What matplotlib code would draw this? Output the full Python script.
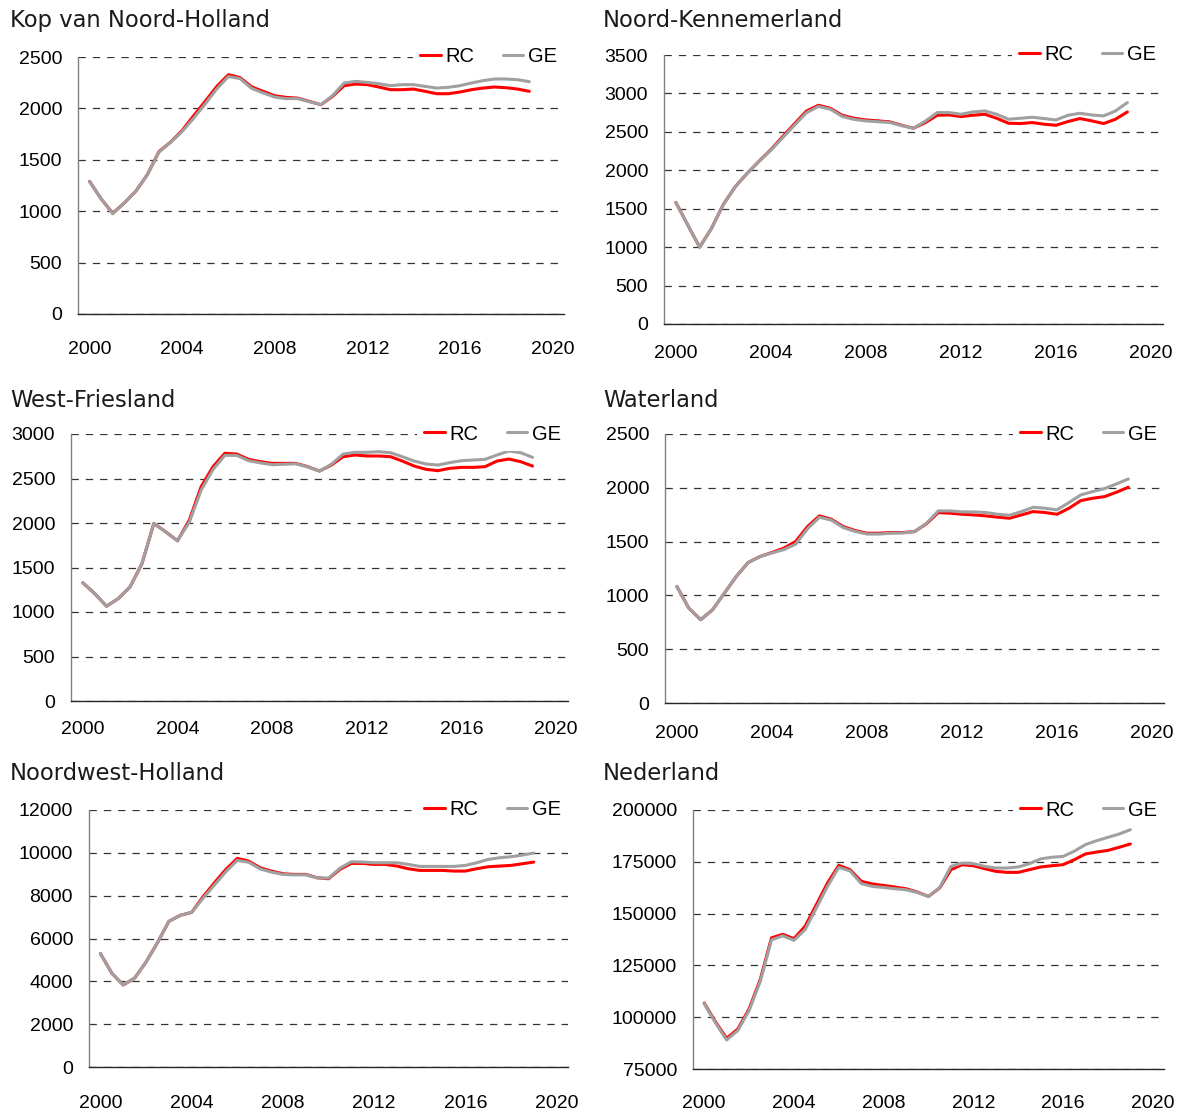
import numpy as np
import matplotlib
matplotlib.use("Agg")
import matplotlib.pyplot as plt


# =========================
# DATA (half-year steps, 2000 - 2019)
# =========================
YEARS = np.arange(2000, 2019.5, 0.5)

TITLES = [
    "Kop van Noord-Holland", "Noord-Kennemerland",
    "West-Friesland", "Waterland",
    "Noordwest-Holland", "Nederland",
]

RC_KOP = [1290, 1120, 980, 1080, 1195, 1357, 1580, 1672, 1785, 1930, 2070,
          2214, 2328, 2300, 2210, 2166, 2123, 2107, 2100, 2068, 2036,
          2117, 2221, 2237, 2231, 2208, 2182, 2182, 2188, 2166, 2143,
          2143, 2159, 2182, 2198, 2208, 2201, 2188, 2166]
GE_KOP = [1290, 1120, 975, 1080, 1195, 1357, 1575, 1670, 1775, 1905, 2045,
          2190, 2310, 2290, 2195, 2150, 2110, 2095, 2095, 2065, 2036,
          2125, 2247, 2263, 2253, 2240, 2221, 2231, 2231, 2214, 2198,
          2205, 2221, 2247, 2270, 2286, 2286, 2279, 2260]

RC_NK = [1581, 1288, 1000, 1245, 1557, 1787, 1960, 2118, 2270, 2440, 2608,
         2772, 2846, 2807, 2716, 2677, 2655, 2643, 2630, 2586, 2547,
         2621, 2716, 2720, 2699, 2716, 2729, 2677, 2612, 2608, 2621,
         2599, 2586, 2634, 2673, 2643, 2608, 2664, 2759]
GE_NK = [1581, 1288, 1000, 1245, 1557, 1787, 1960, 2115, 2262, 2425, 2590,
         2750, 2830, 2795, 2700, 2662, 2642, 2632, 2622, 2580, 2547,
         2640, 2751, 2751, 2729, 2759, 2772, 2729, 2664, 2677, 2690,
         2673, 2655, 2716, 2742, 2720, 2707, 2772, 2881]

RC_WF = [1328, 1208, 1065, 1151, 1283, 1545, 1995, 1901, 1800, 2033, 2408,
         2633, 2783, 2775, 2715, 2689, 2670, 2670, 2670, 2633, 2584,
         2651, 2745, 2764, 2753, 2753, 2745, 2696, 2640, 2603, 2588,
         2614, 2625, 2625, 2633, 2696, 2719, 2689, 2640]
GE_WF = [1328, 1208, 1065, 1151, 1283, 1545, 1995, 1901, 1800, 2010, 2370,
         2600, 2760, 2760, 2700, 2675, 2655, 2660, 2665, 2630, 2584,
         2660, 2775, 2794, 2794, 2801, 2790, 2745, 2696, 2663, 2651,
         2678, 2700, 2708, 2715, 2764, 2809, 2790, 2738]

RC_WL = [1083, 882, 774, 866, 1021, 1176, 1306, 1361, 1399, 1439, 1501,
         1640, 1739, 1708, 1640, 1603, 1578, 1578, 1584, 1584, 1593,
         1665, 1770, 1764, 1754, 1748, 1739, 1727, 1717, 1748, 1779,
         1770, 1754, 1810, 1881, 1903, 1918, 1959, 2005]
GE_WL = [1083, 882, 774, 866, 1021, 1176, 1306, 1361, 1395, 1425, 1476,
         1620, 1726, 1700, 1630, 1595, 1570, 1570, 1578, 1580, 1593,
         1670, 1785, 1785, 1776, 1776, 1770, 1754, 1745, 1779, 1819,
         1810, 1795, 1863, 1934, 1965, 1993, 2036, 2082]

RC_NWH = [5299, 4380, 3830, 4150, 4900, 5800, 6800, 7080, 7220, 7950, 8602,
          9226, 9740, 9615, 9304, 9148, 9023, 8992, 8992, 8836, 8789,
          9226, 9506, 9506, 9460, 9460, 9382, 9257, 9179, 9179, 9179,
          9148, 9148, 9257, 9350, 9382, 9413, 9491, 9569]
GE_NWH = [5299, 4380, 3830, 4150, 4900, 5800, 6800, 7080, 7220, 7880, 8500,
          9120, 9646, 9560, 9250, 9100, 8990, 8970, 8970, 8830, 8820,
          9280, 9584, 9569, 9537, 9537, 9537, 9460, 9366, 9366, 9366,
          9366, 9413, 9537, 9693, 9771, 9818, 9896, 9989]

RC_NL = [106800, 97800, 89800, 94300, 104000, 118200, 138300, 140000, 137900,
         143900, 154300, 164800, 173300, 171200, 165600, 164300, 163600,
         162800, 162000, 160400, 158300, 162400, 171200, 173600, 173100,
         171700, 170400, 169900, 169900, 171200, 172500, 173100, 173600,
         176000, 178800, 179700, 180500, 182000, 183600]
GE_NL = [106500, 97300, 89000, 93600, 103200, 117300, 137300, 139300, 137100,
         142300, 152700, 163200, 172300, 170600, 164500, 163100, 162600,
         162000, 161500, 160200, 158300, 162600, 172800, 174400, 174100,
         172800, 172000, 172000, 172500, 174100, 176400, 177200, 177600,
         180100, 183300, 185200, 186800, 188400, 190500]

RC_SERIES = [RC_KOP, RC_NK, RC_WF, RC_WL, RC_NWH, RC_NL]
GE_SERIES = [GE_KOP, GE_NK, GE_WF, GE_WL, GE_NWH, GE_NL]

Y_RANGES = [(0, 2500, 500), (0, 3500, 500), (0, 3000, 500),
            (0, 2500, 500), (0, 12000, 2000), (75000, 200000, 25000)]
X_TICKS = [2000, 2004, 2008, 2012, 2016, 2020]


# =========================
# LAYOUT (pixels)
# =========================
W, H = 1183, 1113
# left, right, top, bottom of the plot area; x-label distance; title x, baseline
PANELS = [
    (78, 564, 57, 314, 34, 10, 27),
    (664, 1163, 55, 324, 28, 603, 27),
    (71, 568, 434, 701, 27, 10, 407),
    (665, 1164, 434, 703, 29, 603, 407),
    (89, 568, 810, 1067, 35, 10, 780),
    (693, 1164, 810, 1069, 33, 603, 780),
]

RED = "#ff0000"
GREY = "#a0a0a0"

plt.rcParams["font.family"] = ["Liberation Sans", "DejaVu Sans"]
plt.rcParams["lines.scale_dashes"] = False

fig = plt.figure(figsize=(W / 100, H / 100), dpi=100)

for i, (l, r, t, b, xd, tx, ty) in enumerate(PANELS):
    ax = fig.add_axes([l / W, 1 - b / H, (r - l) / W, (b - t) / H])

    rc_line, = ax.plot(YEARS, RC_SERIES[i], color=RED, lw=2.2,
                       solid_capstyle="round", solid_joinstyle="round",
                       zorder=3)
    ge_line, = ax.plot(YEARS, GE_SERIES[i], color=GREY, lw=2.2,
                       solid_capstyle="round", solid_joinstyle="round",
                       zorder=3)

    ymin, ymax, step = Y_RANGES[i]
    ax.set_ylim(ymin, ymax)
    ax.set_yticks(np.arange(ymin, ymax + 1, step))
    ax.set_xlim(1999.5, 2020.5)
    ax.set_xticks(X_TICKS)

    ax.yaxis.grid(True, color="#333333", lw=0.9, linestyle=(0, (5.3, 5.0)))
    ax.set_axisbelow(True)

    for s in ("top", "right"):
        ax.spines[s].set_visible(False)
    ax.spines["left"].set_color("#808080")
    ax.spines["left"].set_linewidth(1.0)
    ax.spines["bottom"].set_color("#262626")
    ax.spines["bottom"].set_linewidth(1.0)

    ax.tick_params(axis="both", length=0, labelsize=14, colors="black")
    ax.tick_params(axis="y", pad=11.5)
    ax.tick_params(axis="x", pad=(xd - 7) * 0.72)

    leg = ax.legend([rc_line, ge_line], ["RC", "GE"], loc="center right",
                    bbox_to_anchor=(1.0, 1.0), ncol=2, fontsize=14.5,
                    frameon=True, fancybox=False, framealpha=1,
                    facecolor="white", edgecolor="none",
                    handlelength=1.0, handletextpad=0.25,
                    columnspacing=1.4, borderpad=0.35, borderaxespad=0)
    leg.set_zorder(5)

    fig.text(tx / W, 1 - ty / H, TITLES[i], family="DejaVu Sans",
             fontsize=16.3, color="#1a1a1a", ha="left", va="baseline")

fig.savefig("out.png", dpi=100)
